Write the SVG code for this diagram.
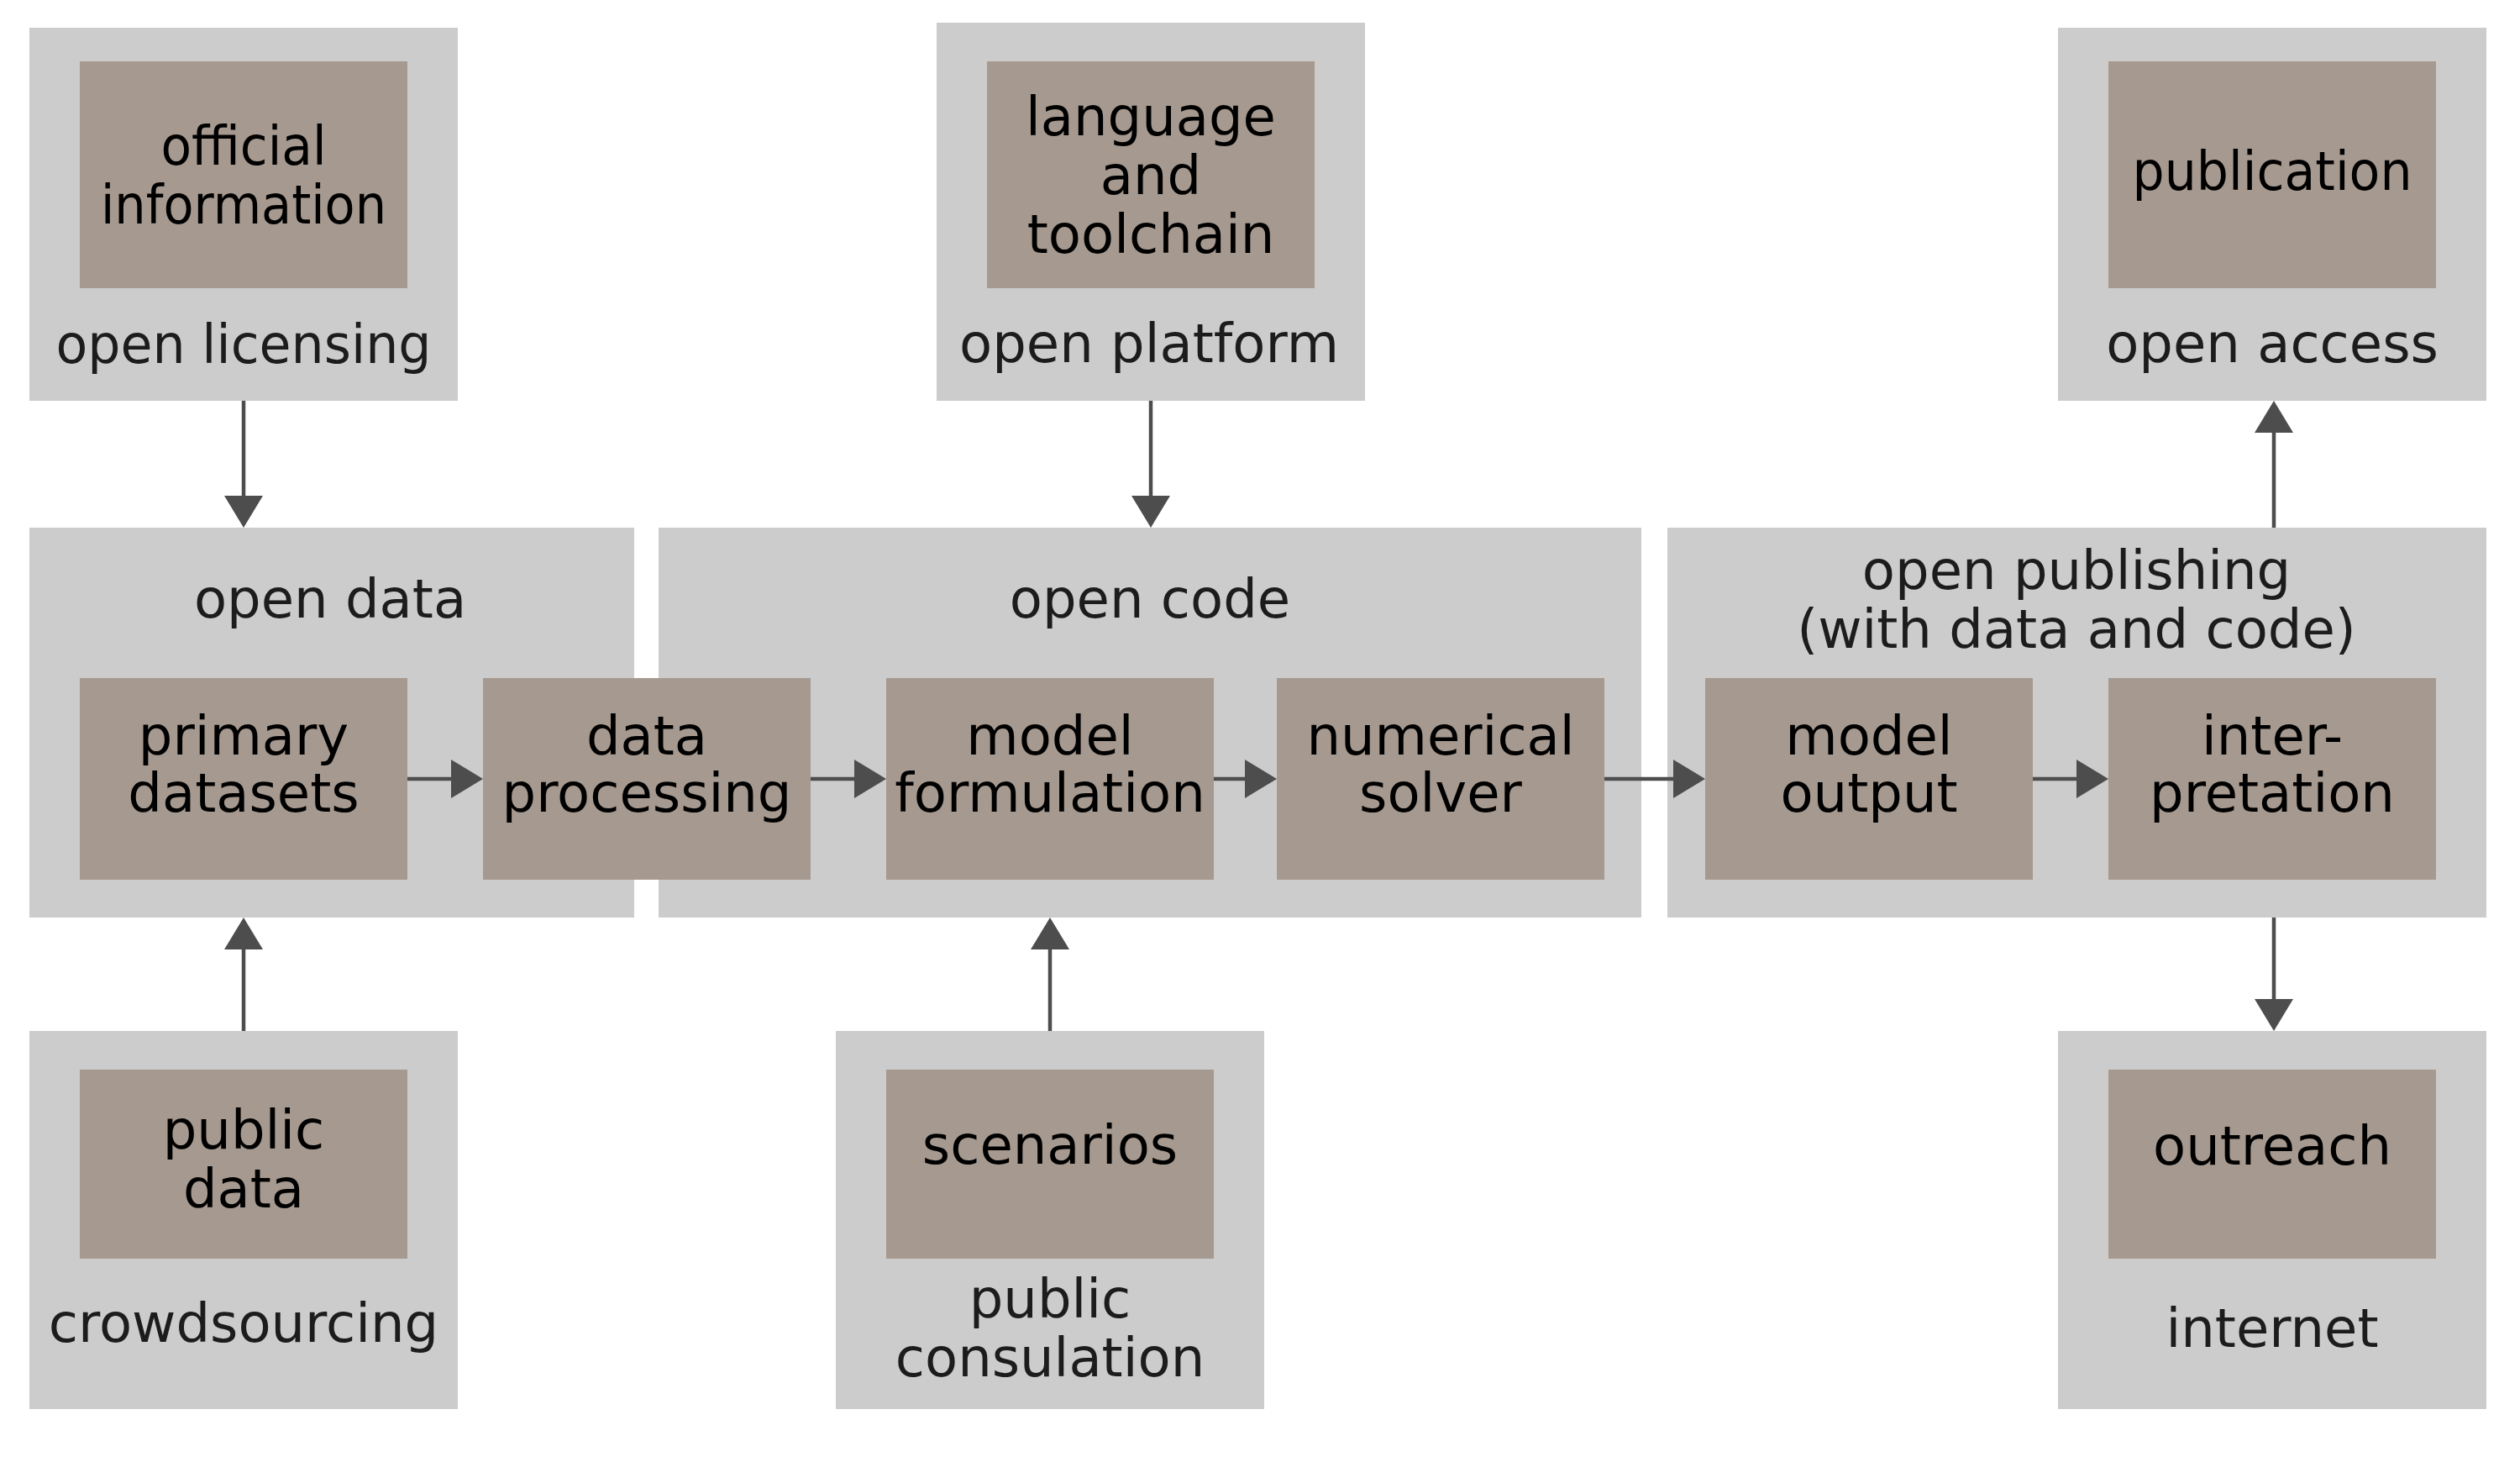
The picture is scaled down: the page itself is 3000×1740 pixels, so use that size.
<svg xmlns="http://www.w3.org/2000/svg" width="3000" height="1740" viewBox="0 0 3000 1740">
  <style>
    .cluster { fill: #cccccc; }
    .node { fill: #a6998f; }
    .clabel { font-family: "DejaVu Sans", sans-serif; font-size: 64px; fill: #1c1c1c; text-anchor: middle; }
    .nlabel { font-family: "DejaVu Sans", sans-serif; font-size: 64px; fill: #000000; text-anchor: middle; }
    .edge { stroke: #4d4d4d; stroke-width: 4.5; fill: none; marker-end: url(#arrow); }
  </style>
  <defs>
    <marker id="arrow" markerUnits="userSpaceOnUse" viewBox="0 -23 38 46" refX="0" refY="0" markerWidth="38" markerHeight="46" orient="auto">
      <path d="M0,-23 L38,0 L0,23 Z" fill="#4d4d4d"/>
    </marker>
  </defs>
  <rect width="3000" height="1740" fill="#ffffff"/>

  <!-- clusters -->
  <g id="cluster-open-licensing">
    <rect class="cluster" x="35" y="33" width="510" height="444"/>
    <text class="clabel" x="290" y="432" textLength="447" lengthAdjust="spacingAndGlyphs">open licensing</text>
  </g>
  <g id="cluster-open-platform">
    <rect class="cluster" x="1115" y="27" width="510" height="450"/>
    <text class="clabel" x="1368" y="431">open platform</text>
  </g>
  <g id="cluster-open-access">
    <rect class="cluster" x="2450" y="33" width="510" height="444"/>
    <text class="clabel" x="2705" y="431">open access</text>
  </g>
  <g id="cluster-open-data">
    <rect class="cluster" x="35" y="628" width="720" height="464"/>
    <text class="clabel" x="393" y="735">open data</text>
  </g>
  <g id="cluster-open-code">
    <rect class="cluster" x="784" y="628" width="1170" height="464"/>
    <text class="clabel" x="1369" y="735">open code</text>
  </g>
  <g id="cluster-open-publishing">
    <rect class="cluster" x="1985" y="628" width="975" height="464"/>
    <text class="clabel" x="2472" y="701">open publishing</text>
    <text class="clabel" x="2472" y="771">(with data and code)</text>
  </g>
  <g id="cluster-crowdsourcing">
    <rect class="cluster" x="35" y="1227" width="510" height="450"/>
    <text class="clabel" x="290" y="1597">crowdsourcing</text>
  </g>
  <g id="cluster-public-consulation">
    <rect class="cluster" x="995" y="1227" width="510" height="450"/>
    <text class="clabel" x="1250" y="1568">public</text>
    <text class="clabel" x="1250" y="1638">consulation</text>
  </g>
  <g id="cluster-internet">
    <rect class="cluster" x="2450" y="1227" width="510" height="450"/>
    <text class="clabel" x="2705" y="1603">internet</text>
  </g>

  <!-- nodes -->
  <g id="node-official-information">
    <rect class="node" x="95" y="73" width="390" height="270"/>
    <text class="nlabel" x="290" y="196" textLength="197" lengthAdjust="spacingAndGlyphs">official</text>
    <text class="nlabel" x="290" y="266" textLength="340" lengthAdjust="spacingAndGlyphs">information</text>
  </g>
  <g id="node-language-toolchain">
    <rect class="node" x="1175" y="73" width="390" height="270"/>
    <text class="nlabel" x="1370" y="161">language</text>
    <text class="nlabel" x="1370" y="231">and</text>
    <text class="nlabel" x="1370" y="301">toolchain</text>
  </g>
  <g id="node-publication">
    <rect class="node" x="2510" y="73" width="390" height="270"/>
    <text class="nlabel" x="2705" y="226" textLength="333" lengthAdjust="spacingAndGlyphs">publication</text>
  </g>
  <g id="node-primary-datasets">
    <rect class="node" x="95" y="807" width="390" height="240"/>
    <text class="nlabel" x="290" y="898">primary</text>
    <text class="nlabel" x="290" y="966">datasets</text>
  </g>
  <g id="node-data-processing">
    <rect class="node" x="575" y="807" width="390" height="240"/>
    <text class="nlabel" x="770" y="898">data</text>
    <text class="nlabel" x="770" y="966">processing</text>
  </g>
  <g id="node-model-formulation">
    <rect class="node" x="1055" y="807" width="390" height="240"/>
    <text class="nlabel" x="1250" y="898">model</text>
    <text class="nlabel" x="1250" y="966">formulation</text>
  </g>
  <g id="node-numerical-solver">
    <rect class="node" x="1520" y="807" width="390" height="240"/>
    <text class="nlabel" x="1715" y="898">numerical</text>
    <text class="nlabel" x="1715" y="966">solver</text>
  </g>
  <g id="node-model-output">
    <rect class="node" x="2030" y="807" width="390" height="240"/>
    <text class="nlabel" x="2225" y="898">model</text>
    <text class="nlabel" x="2225" y="966">output</text>
  </g>
  <g id="node-interpretation">
    <rect class="node" x="2510" y="807" width="390" height="240"/>
    <text class="nlabel" x="2705" y="898">inter-</text>
    <text class="nlabel" x="2705" y="966">pretation</text>
  </g>
  <g id="node-public-data">
    <rect class="node" x="95" y="1273" width="390" height="225"/>
    <text class="nlabel" x="290" y="1367">public</text>
    <text class="nlabel" x="290" y="1437">data</text>
  </g>
  <g id="node-scenarios">
    <rect class="node" x="1055" y="1273" width="390" height="225"/>
    <text class="nlabel" x="1250" y="1385">scenarios</text>
  </g>
  <g id="node-outreach">
    <rect class="node" x="2510" y="1273" width="390" height="225"/>
    <text class="nlabel" x="2705" y="1386">outreach</text>
  </g>

  <!-- connectors -->
  <g id="connectors">
    <line class="edge" x1="290" y1="477" x2="290" y2="590"/>
    <line class="edge" x1="1370" y1="477" x2="1370" y2="590"/>
    <line class="edge" x1="2707" y1="628" x2="2707" y2="515"/>
    <line class="edge" x1="2707" y1="1092" x2="2707" y2="1189"/>
    <line class="edge" x1="290" y1="1227" x2="290" y2="1130"/>
    <line class="edge" x1="1250" y1="1227" x2="1250" y2="1130"/>
    <line class="edge" x1="485" y1="927" x2="537" y2="927"/>
    <line class="edge" x1="965" y1="927" x2="1017" y2="927"/>
    <line class="edge" x1="1445" y1="927" x2="1482" y2="927"/>
    <line class="edge" x1="1910" y1="927" x2="1992" y2="927"/>
    <line class="edge" x1="2420" y1="927" x2="2472" y2="927"/>
  </g>
</svg>
